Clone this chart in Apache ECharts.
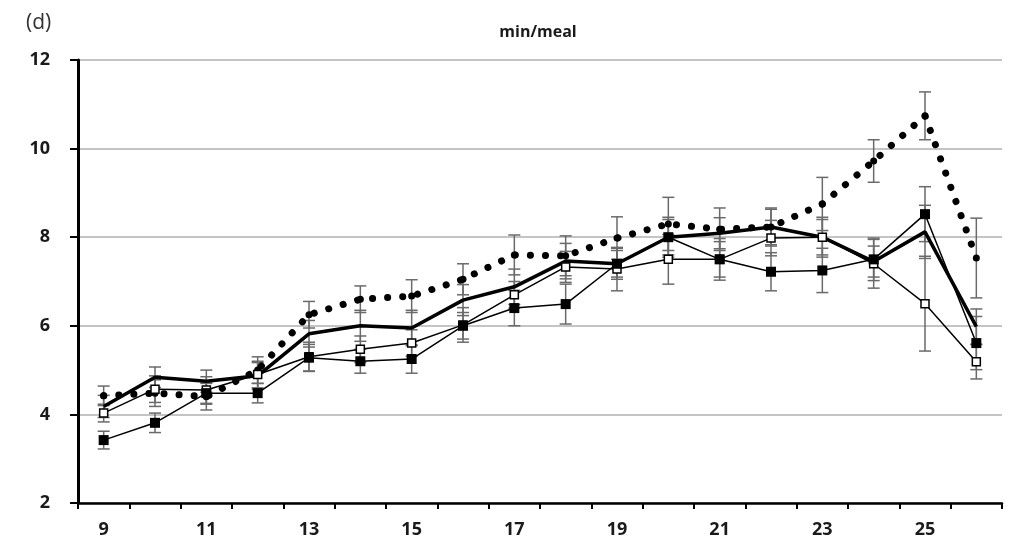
<!DOCTYPE html>
<html>
<head>
<meta charset="utf-8">
<script src="https://cdn.jsdelivr.net/npm/echarts@6/dist/echarts.min.js"></script>
<style>
html,body{margin:0;padding:0;background:#fff;}
#c{width:1033px;height:543px;}
</style>
</head>
<body>
<div id="c"></div>
<script>
const categories = ['9','10','11','12','13','14','15','16','17','18','19','20','21','22','23','24','25','26'];
const yTicks = [2, 4, 6, 8, 10, 12];

const dottedVals = [4.42,4.48,4.40,5.00,6.25,6.60,6.67,7.05,7.60,7.58,7.98,8.30,8.18,8.23,8.75,9.72,10.74,7.53];
const dottedErr  = [0.22,0.30,0.30,0.30,0.30,0.30,0.37,0.35,0.45,0.45,0.48,0.60,0.48,0.43,0.60,0.48,0.54,0.90];

const thickVals  = [4.18,4.84,4.75,4.87,5.82,6.00,5.95,6.58,6.88,7.46,7.40,8.00,8.09,8.23,8.00,7.45,8.12,5.98];
const thickErr   = [0.25,0.23,0.25,0.30,0.30,0.35,0.40,0.35,0.40,0.40,0.35,0.40,0.35,0.40,0.40,0.35,0.60,0.40];

const openVals   = [4.03,4.57,4.55,4.90,5.30,5.47,5.61,6.02,6.70,7.33,7.28,7.50,7.50,7.98,8.00,7.40,6.50,5.19];
const openErr    = [0.20,0.30,0.30,0.30,0.33,0.30,0.30,0.39,0.30,0.35,0.49,0.56,0.47,0.40,0.45,0.55,1.07,0.39];

const filledVals = [3.42,3.81,4.48,4.48,5.28,5.20,5.25,6.00,6.40,6.49,7.40,8.00,7.50,7.22,7.25,7.50,8.52,5.61];
const filledErr  = [0.20,0.22,0.25,0.22,0.30,0.27,0.32,0.30,0.40,0.45,0.30,0.45,0.40,0.43,0.50,0.48,0.62,0.60];

function errData(vals, errs) {
  return vals.map((v, i) => [i, v - errs[i], v + errs[i]]);
}
function errSeries(vals, errs) {
  return {
    type: 'custom',
    data: errData(vals, errs),
    z: 1,
    silent: true,
    renderItem: function (params, api) {
      const x = api.value(0);
      const lo = api.coord([x, api.value(1)]);
      const hi = api.coord([x, api.value(2)]);
      const w = 6;
      const style = { stroke: '#6a6a6a', lineWidth: 1.5 };
      return {
        type: 'group',
        children: [
          { type: 'line', shape: { x1: lo[0], y1: lo[1], x2: hi[0], y2: hi[1] }, style: style },
          { type: 'line', shape: { x1: lo[0] - w, y1: lo[1], x2: lo[0] + w, y2: lo[1] }, style: style },
          { type: 'line', shape: { x1: hi[0] - w, y1: hi[1], x2: hi[0] + w, y2: hi[1] }, style: style }
        ]
      };
    }
  };
}

const chart = echarts.init(document.getElementById('c'), null, { renderer: 'canvas' });
const fam = '"Liberation Sans Narrow", "Open Sans", sans-serif';
const labelFont = { fontFamily: fam, fontWeight: 'bold', fontSize: 18, color: '#1a1a1a' };

chart.setOption({
  animation: false,
  backgroundColor: '#ffffff',
  title: [
    { text: '(d)', left: 21, top: 8, textStyle: { fontFamily: 'Open Sans', fontWeight: 'normal', fontSize: 21, color: '#333' } },
    { text: 'min/meal', left: 533, top: 19, textAlign: 'center', textStyle: { fontFamily: 'Open Sans', fontWeight: 'bold', fontSize: 16, color: '#1a1a1a' } }
  ],
  grid: { left: 78, right: 31, top: 60, bottom: 40 },
  xAxis: {
    type: 'category',
    data: categories,
    boundaryGap: true,
    axisLine: { lineStyle: { color: '#000', width: 2.5 } },
    axisTick: { show: true, interval: 0, length: 6, lineStyle: { color: '#000', width: 2 } },
    axisLabel: Object.assign({ interval: 1, margin: 18 }, labelFont),
    splitLine: { show: false }
  },
  yAxis: {
    type: 'value',
    min: yTicks[0],
    max: yTicks[yTicks.length - 1],
    interval: 2,
    axisLine: { show: true, lineStyle: { color: '#000', width: 3 } },
    axisTick: { show: true, length: 8, lineStyle: { color: '#000', width: 2 } },
    axisLabel: Object.assign({ margin: 28 }, labelFont),
    splitLine: { show: true, lineStyle: { color: '#c4c4c4', width: 2 } }
  },
  series: [
    errSeries(dottedVals, dottedErr),
    errSeries(thickVals, thickErr),
    errSeries(openVals, openErr),
    errSeries(filledVals, filledErr),
    {
      type: 'line', data: dottedVals, z: 3,
      symbol: 'circle', symbolSize: 7,
      itemStyle: { color: '#000' },
      lineStyle: { color: '#000', width: 7, type: [0.1, 15], cap: 'round' }
    },
    {
      type: 'line', data: thickVals, z: 4,
      symbol: 'none',
      lineStyle: { color: '#000', width: 3.5 }
    },
    {
      type: 'line', data: openVals, z: 5,
      symbol: 'rect', symbolSize: 8,
      itemStyle: { color: '#fff', borderColor: '#000', borderWidth: 1.5 },
      lineStyle: { color: '#000', width: 1.5 }
    },
    {
      type: 'line', data: filledVals, z: 5,
      symbol: 'rect', symbolSize: 10,
      itemStyle: { color: '#000' },
      lineStyle: { color: '#000', width: 1.5 }
    }
  ]
});
</script>
</body>
</html>
